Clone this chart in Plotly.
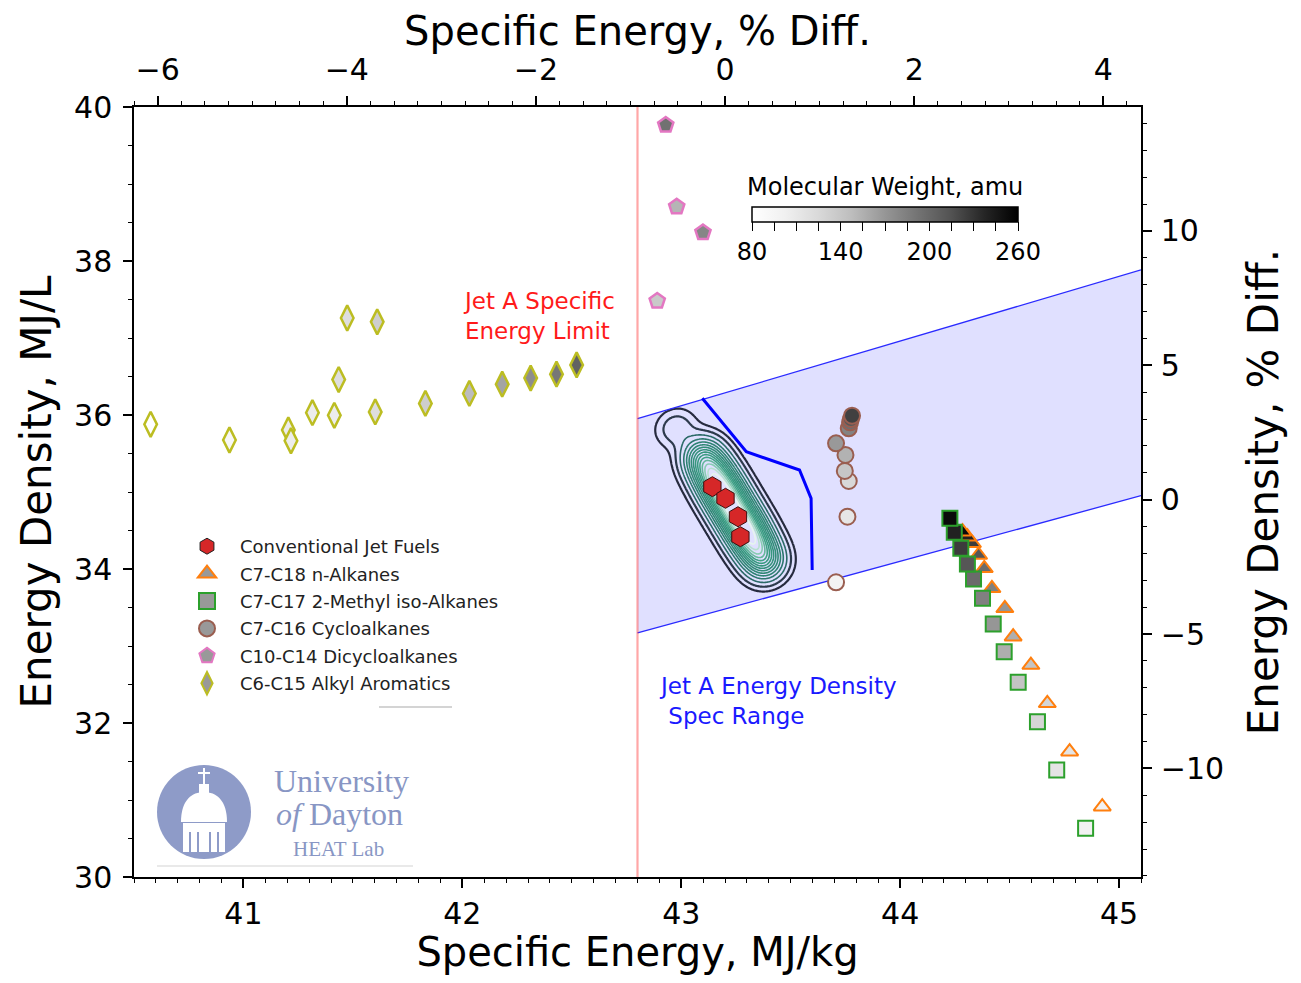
import numpy as np
import plotly.graph_objects as go

# ---------------- data ----------------
SE_REF = 43.2          # MJ/kg reference for % diff (top axis)
ED_REF = 34.9          # MJ/L reference for % diff (right axis)
SE_LIMIT = 42.8        # Jet A specific energy limit
DENS_MIN = 0.775       # Jet A density spec, kg/L
DENS_MAX = 0.840
X_RANGE = [40.5, 45.1]
Y_RANGE = [30.0, 40.0]
MW_RANGE = [80, 260]
MW_TICKS = [80, 140, 200, 260]

jet_se = [43.142, 43.202, 43.259, 43.270]
jet_ed = [35.069, 34.918, 34.679, 34.419]

nalk_se = [44.923, 44.774, 44.672, 44.597, 44.516, 44.478, 44.419, 44.384, 44.358, 44.330, 44.307, 44.285]
nalk_ed = [30.913, 31.627, 32.256, 32.753, 33.121, 33.490, 33.749, 34.009, 34.182, 34.334, 34.419, 34.484]
nalk_mw = [100, 114, 128, 142, 156, 170, 184, 198, 212, 226, 240, 254]

iso_se = [44.847, 44.715, 44.627, 44.539, 44.475, 44.425, 44.376, 44.335, 44.307, 44.277, 44.247, 44.227]
iso_ed = [30.632, 31.390, 32.017, 32.529, 32.926, 33.286, 33.619, 33.870, 34.065, 34.268, 34.477, 34.658]
iso_mw = [100, 114, 128, 142, 156, 170, 184, 198, 212, 226, 240, 254]

cyc_se = [43.707, 43.759, 43.765, 43.747, 43.750, 43.707, 43.765, 43.771, 43.775, 43.780]
cyc_ed = [33.827, 34.679, 35.143, 35.273, 35.481, 35.632, 35.827, 35.905, 35.948, 35.991]
cyc_mw = [98, 112, 126, 140, 154, 168, 182, 196, 210, 224]

dcy_se = [42.890, 42.979, 43.099, 42.929]
dcy_ed = [37.480, 38.705, 38.370, 39.766]
dcy_mw = [138, 152, 180, 194]

aro_se = [40.576, 40.936, 41.205, 41.217, 41.315, 41.415, 41.435, 41.474, 41.602, 41.611,
          41.831, 42.032, 42.182, 42.312, 42.430, 42.522]
aro_ed = [35.879, 35.675, 35.805, 35.666, 36.030, 35.996, 36.460, 37.260, 36.040, 37.210,
          36.150, 36.280, 36.400, 36.480, 36.530, 36.650]
aro_mw = [78, 92, 106, 106, 106, 106, 120, 120, 120, 134, 134, 148, 162, 176, 190, 204]

# fuel survey samples (for the density contours)
fuel_se = [43.084, 43.108, 43.132, 43.156, 43.179, 43.203, 43.227, 43.251, 43.275, 43.299,
           43.322, 43.346, 43.370, 43.394, 42.975]
fuel_ed = [35.519, 35.405, 35.292, 35.178, 35.064, 34.951, 34.836, 34.722, 34.608, 34.495,
           34.381, 34.266, 34.153, 34.039, 35.831]
fuel_w = [0.6, 0.75, 0.85, 0.95, 1.0, 1.0, 1.0, 1.0, 1.0, 1.0, 0.95, 0.85, 0.75, 0.6, 0.3]

# blue boundary line
bl_se = [43.096, 43.297, 43.540, 43.593, 43.598]
bl_ed = [36.217, 35.523, 35.286, 34.918, 33.987]

# ---------------- style / layout ----------------
FONT = "DejaVu Sans"
GREYS = [[0, '#ffffff'], [0.125, '#f0f0f0'], [0.25, '#d9d9d9'], [0.375, '#bdbdbd'],
         [0.5, '#969696'], [0.625, '#737373'], [0.75, '#525252'], [0.875, '#252525'],
         [1, '#000000']]
KDE_DARK = [[0, '#262a3e'], [1, '#2d3a4c']]
KDE_GREEN = [[0, '#2c6a68'], [0.15, '#2e8272'], [0.65, '#3a9e82'], [0.85, '#8fd0b6'], [1, '#e6f5ee']]

OFF = 8                                   # page body margin
W, H = 1285, 967
PL, PR, PT, PB = 134, 1141, 107, 877      # plot area in screen pixels
ML, MT = PL - OFF, PT - OFF
MR, MB = W - (PR - OFF), H - (PB - OFF)
PW, PH = PR - PL, PB - PT


def px(x):
    return (x - PL) / PW


def py(y):
    return (PB - y) / PH


fig = go.Figure()

# Jet A density spec band lines
band_x = [SE_LIMIT, X_RANGE[1]]
fig.add_trace(go.Scatter(x=band_x, y=[DENS_MAX * v for v in band_x], mode='lines',
                         line=dict(color='#2a2aff', width=1.3), showlegend=False, hoverinfo='skip'))
fig.add_trace(go.Scatter(x=band_x, y=[DENS_MIN * v for v in band_x], mode='lines',
                         line=dict(color='#2a2aff', width=1.3), showlegend=False, hoverinfo='skip'))
# specific energy limit
fig.add_trace(go.Scatter(x=[SE_LIMIT, SE_LIMIT], y=Y_RANGE, mode='lines',
                         line=dict(color='rgba(255,60,60,0.45)', width=2.2),
                         showlegend=False, hoverinfo='skip'))

# KDE of fuel samples (oriented gaussian kernel, in screen-aspect units)
sx = PW / (X_RANGE[1] - X_RANGE[0])
sy = PH / (Y_RANGE[1] - Y_RANGE[0])
ux, uy = 0.512, 0.859          # kernel major-axis direction (screen)
s_along, s_perp = 12.0, 13.5   # kernel widths (screen px)
gx = np.linspace(42.85, 43.7, 171)
gy = np.linspace(33.2, 36.5, 331)
GX, GY = np.meshgrid(gx, gy)
Z = np.zeros_like(GX)
for se, ed, w in zip(fuel_se, fuel_ed, fuel_w):
    dx = (GX - se) * sx
    dy = -(GY - ed) * sy
    a = dx * ux + dy * uy
    p = dx * uy - dy * ux
    Z += w * np.exp(-0.5 * ((a / s_along) ** 2 + (p / s_perp) ** 2))
Z = Z / Z.max()
fig.add_trace(go.Contour(x=gx, y=gy, z=Z, zmin=0, zmax=1, colorscale=KDE_DARK,
                         contours=dict(coloring='lines', start=0.03, end=0.067, size=0.036),
                         line=dict(width=2.2), showscale=False, hoverinfo='skip', showlegend=False))
fig.add_trace(go.Contour(x=gx, y=gy, z=Z, zmin=0.12, zmax=0.95, colorscale=KDE_GREEN,
                         contours=dict(coloring='lines', start=0.12, end=0.95, size=0.064),
                         line=dict(width=1.6), showscale=False, hoverinfo='skip', showlegend=False))

fig.add_trace(go.Scatter(x=bl_se, y=bl_ed, mode='lines', line=dict(color='#0000ff', width=3),
                         showlegend=False, hoverinfo='skip'))


def mw_marker(symbol, size, mw, edge, width=2, showscale=False):
    m = dict(symbol=symbol, size=size, color=mw, colorscale=GREYS, cmin=MW_RANGE[0],
             cmax=MW_RANGE[1], line=dict(color=edge, width=width), showscale=showscale)
    if showscale:
        tv = list(range(MW_RANGE[0], MW_RANGE[1] + 1, 15))
        m['colorbar'] = dict(
            orientation='h', x=px(885), xanchor='center', y=py(207), yanchor='top',
            len=266, lenmode='pixels', thickness=15, outlinewidth=1.5, outlinecolor='black',
            tickvals=tv, ticktext=[str(v) if v in MW_TICKS else '' for v in tv],
            ticks='outside', ticklen=9, tickwidth=1.2, tickcolor='black',
            tickfont=dict(family=FONT, size=24, color='black'),
            bgcolor='rgba(0,0,0,0)', ypad=0, xpad=0)
    return m


fig.add_trace(go.Scatter(x=aro_se, y=aro_ed, mode='markers', showlegend=False, hoverinfo='skip',
                         marker=mw_marker('diamond-tall', 18, aro_mw, '#bcbd22', 2.5, True)))
fig.add_trace(go.Scatter(x=dcy_se, y=dcy_ed, mode='markers', showlegend=False, hoverinfo='skip',
                         marker=mw_marker('pentagon', 16, dcy_mw, '#e377c2', 2.5)))
fig.add_trace(go.Scatter(x=cyc_se, y=cyc_ed, mode='markers', showlegend=False, hoverinfo='skip',
                         marker=mw_marker('circle', 16, cyc_mw, '#9a5e50', 2)))
fig.add_trace(go.Scatter(x=nalk_se, y=nalk_ed, mode='markers', showlegend=False, hoverinfo='skip',
                         marker=mw_marker('triangle-up', 15, nalk_mw, '#ff7f0e', 2)))
fig.add_trace(go.Scatter(x=iso_se, y=iso_ed, mode='markers', showlegend=False, hoverinfo='skip',
                         marker=mw_marker('square', 15, iso_mw, '#2ca02c', 2)))
fig.add_trace(go.Scatter(x=jet_se, y=jet_ed, mode='markers', showlegend=False, hoverinfo='skip',
                         marker=dict(symbol='hexagon', size=20, color='#d62728',
                                     line=dict(color='#3a1010', width=1))))

# legend entries
legend_items = [
    ('Conventional Jet Fuels', 'hexagon', '#d62728', '#222222', 1),
    ('C7-C18 n-Alkanes', 'triangle-up', '#999999', '#ff7f0e', 2),
    ('C7-C17 2-Methyl iso-Alkanes', 'square', '#999999', '#2ca02c', 2),
    ('C7-C16 Cycloalkanes', 'circle', '#999999', '#9a5e50', 2),
    ('C10-C14 Dicycloalkanes', 'pentagon', '#999999', '#e377c2', 2),
    ('C6-C15 Alkyl Aromatics', 'diamond-tall', '#999999', '#bcbd22', 2),
]
for i, (name, sym, fc, ec, lw) in enumerate(legend_items):
    fig.add_trace(go.Scatter(x=[None], y=[None], mode='markers', name=name, legendgroup=f'g{i}',
                             marker=dict(symbol=sym, size=16, color=fc, line=dict(color=ec, width=lw))))

# dummy trace for secondary axes
fig.add_trace(go.Scatter(x=[None], y=[None], xaxis='x2', yaxis='y2', showlegend=False,
                         hoverinfo='skip'))

# density band fill (below traces)
fig.add_shape(type='path', xref='x', yref='y', layer='below', line=dict(width=0),
              fillcolor='rgba(0,0,255,0.12)',
              path=(f'M{SE_LIMIT},{DENS_MIN * SE_LIMIT} L{X_RANGE[1]},{DENS_MIN * X_RANGE[1]} '
                    f'L{X_RANGE[1]},{DENS_MAX * X_RANGE[1]} L{SE_LIMIT},{DENS_MAX * SE_LIMIT} Z'))

# ---------------- logo (decoration) ----------------
LOGO = '#8e9bc8'
fig.add_shape(type='circle', xref='paper', yref='paper', x0=px(157), x1=px(251), y0=py(859), y1=py(765),
              fillcolor=LOGO, line=dict(width=0))
dome = (f'M{px(181)},{py(822)} C{px(181)},{py(800)} {px(192)},{py(792)} {px(204)},{py(792)} '
        f'C{px(216)},{py(792)} {px(227)},{py(800)} {px(227)},{py(822)} Z')
fig.add_shape(type='path', xref='paper', yref='paper', path=dome, fillcolor='white', line=dict(width=0))
fig.add_shape(type='rect', xref='paper', yref='paper', x0=px(199), x1=px(209), y0=py(793), y1=py(784),
              fillcolor='white', line=dict(width=0))
fig.add_shape(type='line', xref='paper', yref='paper', x0=px(204), x1=px(204), y0=py(785), y1=py(768),
              line=dict(color='white', width=2))
fig.add_shape(type='line', xref='paper', yref='paper', x0=px(198), x1=px(210), y0=py(773), y1=py(773),
              line=dict(color='white', width=2))
fig.add_shape(type='rect', xref='paper', yref='paper', x0=px(183), x1=px(225), y0=py(852), y1=py(823),
              fillcolor='white', line=dict(width=0))
for cx in (190, 198, 210, 218):
    fig.add_shape(type='line', xref='paper', yref='paper', x0=px(cx), x1=px(cx), y0=py(852), y1=py(832),
                  line=dict(color=LOGO, width=2))
fig.add_shape(type='line', xref='paper', yref='paper', x0=px(157), x1=px(413), y0=py(866), y1=py(866),
              line=dict(color='#e2e2e2', width=1.5))
# small white legend-tab artefact
fig.add_shape(type='line', xref='paper', yref='paper', x0=px(379), x1=px(452), y0=py(707), y1=py(707),
              line=dict(color='#d4d4d4', width=2))

annots = [
    dict(x=px(341), y=py(781), text='University', font=dict(family='Liberation Serif', size=32, color='#8896c4')),
    dict(x=px(339), y=py(814), text='<i>of</i> Dayton', font=dict(family='Liberation Serif', size=32, color='#8896c4')),
    dict(x=px(338), y=py(849), text='HEAT Lab', font=dict(family='Liberation Serif', size=21, color='#8896c4')),
]
for a in annots:
    fig.add_annotation(xref='paper', yref='paper', showarrow=False, xanchor='center', yanchor='middle', **a)

# colorbar title
fig.add_annotation(xref='paper', yref='paper', x=px(885), y=py(187), xanchor='center', yanchor='middle',
                   showarrow=False, text='Molecular Weight, amu',
                   font=dict(family=FONT, size=24, color='black'))

fig.add_annotation(xref='paper', yref='paper', x=px(461), y=py(316), xanchor='left', yanchor='middle',
                   align='left', showarrow=False, text='Jet A Specific<br>Energy Limit',
                   font=dict(family=FONT, size=23, color='#ff1a1a'))
fig.add_annotation(xref='paper', yref='paper', x=px(657), y=py(701), xanchor='left', yanchor='middle',
                   align='left', showarrow=False, text='Jet A Energy Density<br>\u00a0Spec Range',
                   font=dict(family=FONT, size=23, color='#1a1aff'))

# ---------------- axes ----------------
tick_common = dict(ticks='outside', ticklen=9, tickwidth=1.5, tickcolor='black', showline=True,
                   linecolor='black', linewidth=1.5, showgrid=False, zeroline=False,
                   tickfont=dict(family=FONT, size=30, color='black'), automargin=False)
x2_range = [(v - SE_REF) / SE_REF * 100 for v in X_RANGE]
y2_range = [(v - ED_REF) / ED_REF * 100 for v in Y_RANGE]

fig.update_layout(
    width=W, height=H, margin=dict(l=ML, r=MR, t=MT, b=MB),
    paper_bgcolor='white', plot_bgcolor='white',
    font=dict(family=FONT, color='black'),
    xaxis=dict(range=X_RANGE, tick0=41, dtick=1,
               minor=dict(dtick=0.1, ticklen=4, tickwidth=1, ticks='outside', tickcolor='black'),
               title=dict(text='Specific Energy, MJ/kg', font=dict(size=40), standoff=12), **tick_common),
    yaxis=dict(range=Y_RANGE, tick0=30, dtick=2, ticklabelstandoff=5,
               minor=dict(dtick=0.5, ticklen=4, tickwidth=1, ticks='outside', tickcolor='black'),
               title=dict(text='Energy Density, MJ/L', font=dict(size=42), standoff=9), **tick_common),
    xaxis2=dict(range=x2_range, overlaying='x', side='top', tick0=0, dtick=2, ticklabelstandoff=4,
                minor=dict(dtick=0.25, ticklen=4, tickwidth=1, ticks='outside', tickcolor='black'),
                title=dict(text='Specific Energy, % Diff.', font=dict(size=40), standoff=0), **tick_common),
    yaxis2=dict(range=y2_range, overlaying='y', side='right', tick0=0, dtick=5, ticklabelstandoff=3,
                minor=dict(dtick=1, ticklen=4, tickwidth=1, ticks='outside', tickcolor='black'),
                title=dict(text='Energy Density, % Diff.', font=dict(size=42), standoff=26), **tick_common),
    legend=dict(x=px(174), y=py(528), xanchor='left', yanchor='top', bgcolor='rgba(0,0,0,0)',
                font=dict(family=FONT, size=18, color='#222222'), tracegroupgap=1, itemwidth=56),
    showlegend=True,
)

fig.write_html('out.html')
